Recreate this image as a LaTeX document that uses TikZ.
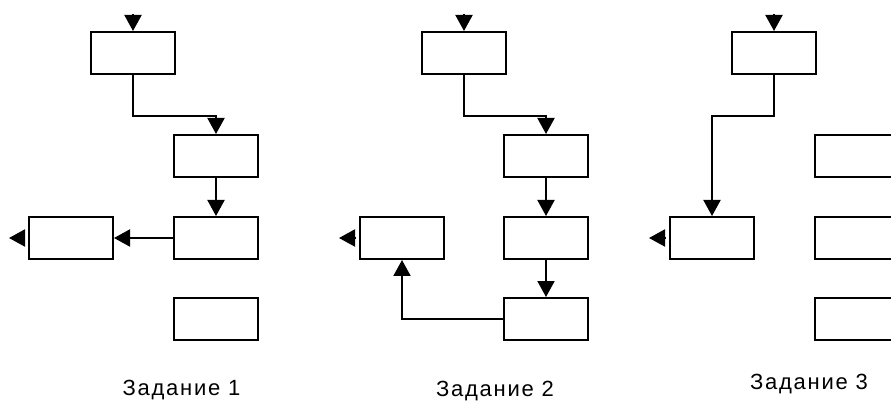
\documentclass[tikz,border=0pt]{standalone}
\usepackage{fontspec}
\setmainfont{Liberation Sans}
\usetikzlibrary{arrows.meta}

\tikzset{
  blk/.style={draw=black, line width=2pt, minimum width=84pt, minimum height=42pt,
              inner sep=0pt, fill=white},
  link/.style={line width=2pt, -{Triangle[width=17pt,length=16pt]}},
  caption/.style={font=\fontsize{22pt}{24pt}\selectfont\addfontfeature{LetterSpace=8}, inner sep=0pt}
}

\begin{document}
\begin{tikzpicture}[x=1pt,y=-1pt]
  \useasboundingbox (0,0) rectangle (891,403);
  \clip (0,0) rectangle (891,403);

  % ---- task 1 ----
  \node[blk] (a1) at (133,53) {};
  \node[blk] (b1) at (216,156) {};
  \node[blk] (c1) at (216,238) {};
  \node[blk] (d1) at (216,319) {};
  \node[blk] (l1) at (71,238) {};
  \coordinate (in1) at (133,14);
  \coordinate (out1) at (9,238);
  \draw[link] (in1) -- (a1.north);
  \draw[link] (a1.south) -- ++(0,41) -| (b1.north);
  \draw[link] (b1.south) -- (c1.north);
  \draw[link] (c1.west) -- (l1.east);
  \draw[link] ([xshift=-4pt]l1.west) -- (out1);
  \node[caption] (t1) at (181.5,390) {Задание 1};

  % ---- task 2 ----
  \node[blk] (a2) at (464,53) {};
  \node[blk] (b2) at (546,156) {};
  \node[blk] (c2) at (546,238) {};
  \node[blk] (d2) at (546,319) {};
  \node[blk] (l2) at (402,238) {};
  \coordinate (in2) at (464,14);
  \coordinate (out2) at (339,238);
  \draw[link] (in2) -- (a2.north);
  \draw[link] (a2.south) -- ++(0,41) -| (b2.north);
  \draw[link] (b2.south) -- (c2.north);
  \draw[link] (c2.south) -- (d2.north);
  \draw[link] (d2.west) -| (l2.south);
  \draw[link] ([xshift=-4pt]l2.west) -- (out2);
  \node[caption] (t2) at (495,391.5) {Задание 2};

  % ---- task 3 ----
  \node[blk] (a3) at (774,53) {};
  \node[blk] (l3) at (712,238) {};
  \node[blk] (r1) at (857,156) {};
  \node[blk] (r2) at (857,238) {};
  \node[blk] (r3) at (857,319) {};
  \coordinate (in3) at (774,14);
  \coordinate (out3) at (649,238);
  \draw[link] (in3) -- (a3.north);
  \draw[link] (a3.south) -- ++(0,41) -| (l3.north);
  \draw[link] ([xshift=-4pt]l3.west) -- (out3);
  \node[caption] (t3) at (809,384) {Задание 3};
\end{tikzpicture}
\end{document}
